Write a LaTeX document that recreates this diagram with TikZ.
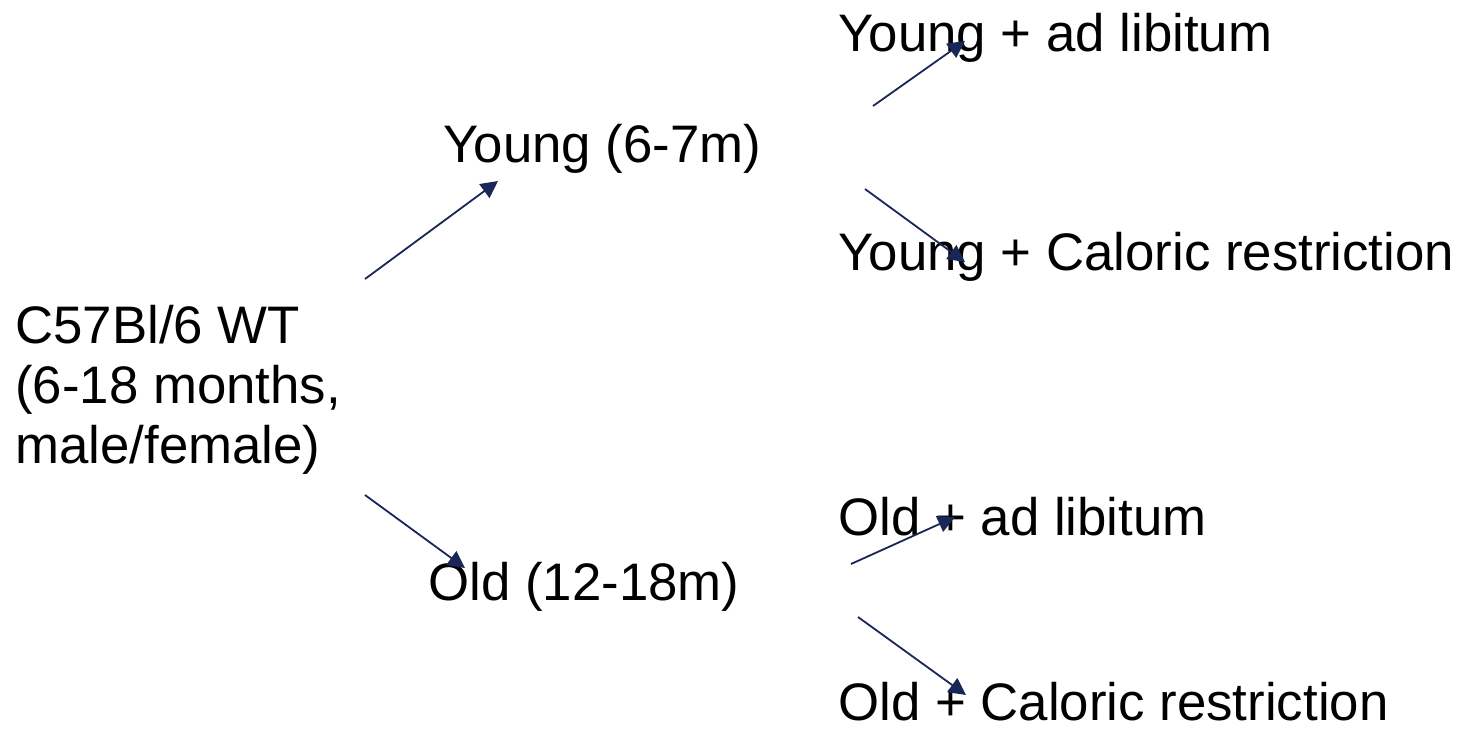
\documentclass[tikz,border=0pt]{standalone}
\usepackage{fontspec}
\setmainfont{Liberation Sans}
\usetikzlibrary{arrows.meta}
\definecolor{arrowblue}{HTML}{1A2558}
\begin{document}
\begin{tikzpicture}[x=0.5pt,y=-0.5pt,
  lbl/.style={anchor=base west,inner sep=0pt,font=\fontsize{26.4}{30}\selectfont},
  conn/.style={draw=arrowblue,line width=0.9pt,-{Triangle[length=8.5pt,width=8.5pt]}}]
\useasboundingbox (0,0) rectangle (1461,729);
\node[lbl,align=left] (root) at (15,463) {C57Bl/6 WT\\(6-18 months,\\male/female)};
\node[lbl] (young) at (443,162) {Young (6-7m)};
\node[lbl] (old) at (428,600) {Old (12-18m)};
\node[lbl] (yal) at (838,51) {Young + ad libitum};
\node[lbl] (ycr) at (838,270) {Young + Caloric restriction};
\node[lbl] (oal) at (838,535) {Old + ad libitum};
\node[lbl] (ocr) at (838,720) {Old + Caloric restriction};
\coordinate (r1) at (365,279); \coordinate (y1) at (498,181);
\coordinate (r2) at (365,495); \coordinate (o1) at (465,568);
\coordinate (y2) at (873,106); \coordinate (yal1) at (965,41);
\coordinate (y3) at (865,189); \coordinate (ycr1) at (965,262);
\coordinate (o2) at (851,564); \coordinate (oal1) at (955,517);
\coordinate (o3) at (858,617); \coordinate (ocr1) at (966,695);
\draw[conn] (r1) -- (y1);
\draw[conn] (r2) -- (o1);
\draw[conn] (y2) -- (yal1);
\draw[conn] (y3) -- (ycr1);
\draw[conn] (o2) -- (oal1);
\draw[conn] (o3) -- (ocr1);
\end{tikzpicture}
\end{document}
